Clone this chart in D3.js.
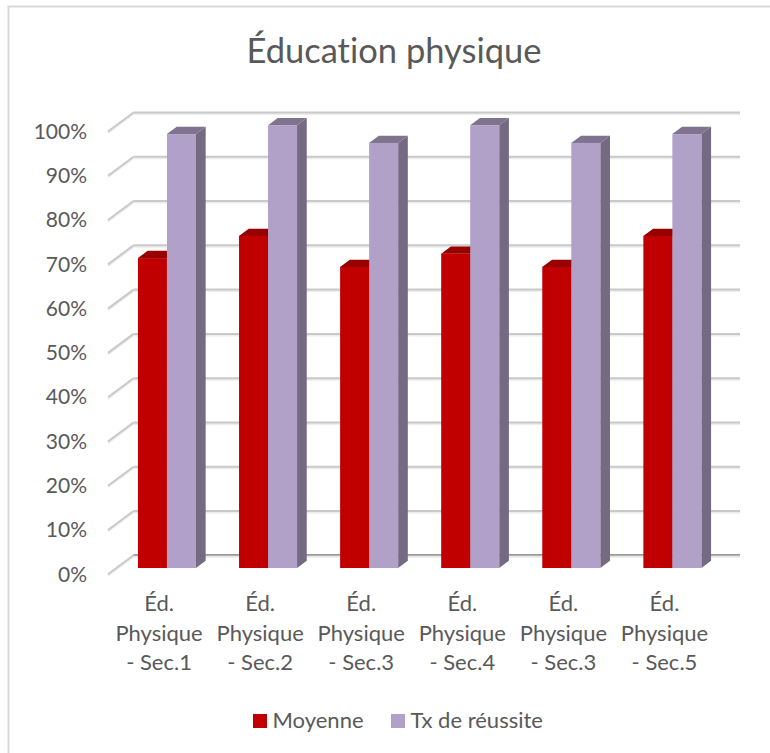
<!DOCTYPE html>
<html lang="fr">
  <head>
    <meta charset="UTF-8" />
    <title>Éducation physique</title>
    <script src="https://d3js.org/d3.v7.min.js"></script>
    <style>
      html,
      body {
        margin: 0;
        padding: 0;
        background-color: white;
      }
      svg {
        display: block;
      }
      text {
        font-family: Lato, sans-serif;
        font-variant-ligatures: none;
        fill: #595959;
      }
    </style>
  </head>
  <body>
    <svg id="chart"></svg>
    <script>
      const categories = [
        "Éd. Physique - Sec.1",
        "Éd. Physique - Sec.2",
        "Éd. Physique - Sec.3",
        "Éd. Physique - Sec.4",
        "Éd. Physique - Sec.3",
        "Éd. Physique - Sec.5",
      ];
      const moyenne = [70, 75, 68, 71, 68, 75];
      const reussite = [98, 100, 96, 100, 96, 98];
      const seriesNames = ["Moyenne", "Tx de réussite"];
      const yTicks = [0, 10, 20, 30, 40, 50, 60, 70, 80, 90, 100];

      const width = 770;
      const height = 753;

      const colors = [
        { front: "#c00000", top: "#980000", side: "#8e0000" },
        { front: "#b1a0c7", top: "#7f7390", side: "#746a82" },
      ];

      const svg = d3.select("#chart").attr("width", width).attr("height", height);

      // chart frame, only left and top show in the reference
      svg
        .append("path")
        .attr("d", `M8.5,${height}V6.5H${width}`)
        .attr("fill", "none")
        .attr("stroke", "#d9d9d9")
        .attr("stroke-width", 2);

      // scales sit on the back wall, depth is a shift down and left
      const y = d3.scaleLinear().domain([0, 100]).range([555.3, 112.5]);
      const x0 = d3
        .scaleBand()
        .domain(d3.range(categories.length))
        .range([133.5, 740])
        .paddingInner(0.426)
        .paddingOuter(0.213);
      const x1 = d3
        .scaleBand()
        .domain(d3.range(seriesNames.length))
        .range([0, x0.bandwidth()]);

      const floorDx = -25.5;
      const floorDy = 19;
      const barFront = 0.67;
      const barBack = 0.29;

      // Grid: back wall lines plus the diagonals on the side wall
      const grid = svg.append("g");
      // soft light edge under each line, then the line itself
      [
        { shift: 1.5, color: "#ececec" },
        { shift: 0, color: "#c9c9c9" },
      ].forEach((layer) => {
        grid
          .append("g")
          .selectAll("line")
          .data(yTicks)
          .enter()
          .append("line")
          .attr("x1", 133.5)
          .attr("x2", 740)
          .attr("y1", (d) => y(d) + layer.shift)
          .attr("y2", (d) => y(d) + layer.shift)
          .attr("stroke", layer.color)
          .attr("stroke-width", 2);
        grid
          .append("g")
          .selectAll("line")
          .data(yTicks)
          .enter()
          .append("line")
          .attr("x1", 133.5)
          .attr("x2", 133.5 + floorDx)
          .attr("y1", (d) => y(d) + layer.shift)
          .attr("y2", (d) => y(d) + floorDy + layer.shift)
          .attr("stroke", layer.color)
          .attr("stroke-width", 2);
      });
      grid
        .append("line")
        .attr("x1", 133.5)
        .attr("x2", 740)
        .attr("y1", y(0) - 0.5)
        .attr("y2", y(0) - 0.5)
        .attr("stroke", "#7f7f7f");

      // Bars, one group per category, purple drawn after red
      const bars = [];
      categories.forEach((c, i) => {
        [moyenne[i], reussite[i]].forEach((v, s) => bars.push({ i, s, v }));
      });

      const bar = svg
        .append("g")
        .selectAll("g")
        .data(bars)
        .enter()
        .append("g");

      function barBox(d) {
        const left = x0(d.i) + x1(d.s) + floorDx * barFront;
        return {
          left,
          right: left + x1.bandwidth(),
          top: y(d.v) + floorDy * barFront,
          bottom: y(0) + floorDy * barFront,
          dx: floorDx * (barBack - barFront),
          dy: floorDy * (barBack - barFront),
        };
      }

      bar
        .append("path")
        .attr("fill", (d) => colors[d.s].side)
        .attr("d", (d) => {
          const b = barBox(d);
          return `M${b.right},${b.top}l${b.dx},${b.dy}V${b.bottom + b.dy}L${b.right},${b.bottom}Z`;
        });
      bar
        .append("path")
        .attr("fill", (d) => colors[d.s].top)
        .attr("d", (d) => {
          const b = barBox(d);
          return `M${b.left},${b.top}l${b.dx},${b.dy}H${b.right + b.dx}L${b.right},${b.top}Z`;
        });
      bar
        .append("rect")
        .attr("fill", (d) => colors[d.s].front)
        .attr("x", (d) => barBox(d).left)
        .attr("y", (d) => barBox(d).top)
        .attr("width", x1.bandwidth())
        .attr("height", (d) => barBox(d).bottom - barBox(d).top);

      // Value axis, labels follow the front end of the diagonals
      const yAxis = svg
        .append("g")
        .attr("transform", `translate(87,${floorDy})`)
        .call(
          d3
            .axisLeft(y)
            .tickValues(yTicks)
            .tickSize(0)
            .tickPadding(0)
            .tickFormat((d) => d + "%")
        );
      yAxis.select(".domain").remove();
      yAxis.selectAll("text").attr("font-size", 21).style("font-family", "Lato, sans-serif");

      // Category axis, each label wraps on three lines
      const xAxis = svg
        .append("g")
        .attr("transform", `translate(${floorDx + 0.5},592)`)
        .call(
          d3
            .axisBottom(x0)
            .tickSize(0)
            .tickPadding(0)
            .tickFormat((i) => categories[i])
        );
      xAxis.select(".domain").remove();
      xAxis.selectAll("text").each(function (i) {
        const parts = categories[i].match(/^(\S+) (\S+) (.+)$/).slice(1);
        const label = d3.select(this).text(null).attr("font-size", 22).attr("y", 0).attr("dy", null);
        label
          .selectAll("tspan")
          .data(parts)
          .enter()
          .append("tspan")
          .attr("x", 0)
          .attr("y", (p, k) => 19 + k * 29.5)
          .text((p) => p);
      });

      // Title
      svg
        .append("text")
        .attr("x", 394)
        .attr("y", 63)
        .attr("text-anchor", "middle")
        .attr("font-size", 34.5)
        .text("Éducation physique");

      // Legend
      const legendX = [253, 391];
      const legend = svg
        .append("g")
        .selectAll("g")
        .data(seriesNames)
        .enter()
        .append("g")
        .attr("transform", (d, i) => `translate(${legendX[i]},714)`);
      legend
        .append("rect")
        .attr("width", 14)
        .attr("height", 14)
        .attr("fill", (d, i) => colors[i].front);
      legend
        .append("text")
        .attr("x", 19.5)
        .attr("y", 13.5)
        .attr("font-size", 22)
        .text((d) => d);
    </script>
  </body>
</html>
